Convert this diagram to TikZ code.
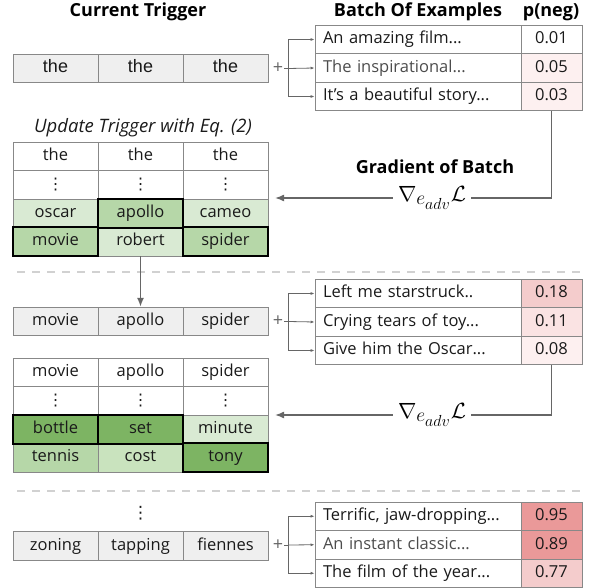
\RequirePackage{fix-cm}
\documentclass[tikz,border=0pt]{standalone}
\usepackage{fontspec}
\setmainfont{Open Sans}
\newfontfamily\arialf{Liberation Sans}
\newfontfamily\dejavu{DejaVu Sans}
\usetikzlibrary{arrows.meta}
\definecolor{trigfill}{HTML}{EFEFEF}
\definecolor{gA}{HTML}{D9EAD3}
\definecolor{gB}{HTML}{B6D7A8}
\definecolor{gC}{HTML}{C9E3BE}
\definecolor{gD}{HTML}{7DB463}
\definecolor{rA}{HTML}{FDF0F0}
\definecolor{rB}{HTML}{FAE3E3}
\definecolor{rC}{HTML}{F4CCCC}
\definecolor{rD}{HTML}{EA9999}
\definecolor{edge}{HTML}{888888}
\definecolor{linec}{HTML}{666666}
\definecolor{txt}{HTML}{1A1A1A}
\newcommand{\gradlabel}{$\nabla_{\mbox{\fontsize{19.5}{21}\selectfont$e_{\mbox{\fontsize{16}{18}\selectfont$adv$}}$}}\mathcal{L}$}
\begin{document}
\begin{tikzpicture}[x=1pt,y=-1pt,
  cell/.style={draw=edge, line width=0.8pt, minimum width=85pt, minimum height=28.5pt, inner sep=0pt,
     text=txt, font=\fontsize{16.5}{19}\selectfont, text height=12pt, text depth=3.5pt},
  trig/.style={cell, fill=trigfill},
  dots/.style={cell, font=\dejavu\fontsize{16}{18}\selectfont, text height=12pt, text depth=2pt},
  hot/.style={draw=black, line width=2pt},
  ex/.style={draw=edge, line width=0.8pt, minimum height=28.5pt, text width=190pt, inner xsep=8pt, inner ysep=0pt,
     align=left, text=txt, font=\fontsize{16.5}{19}\selectfont, text height=12pt, text depth=3.5pt},
  pv/.style={draw=edge, line width=0.8pt, minimum height=28.5pt, minimum width=61pt, inner sep=0pt,
     text=txt, font=\fontsize{16.5}{19}\selectfont, text height=12pt, text depth=3.5pt},
  head/.style={font=\fontsize{18}{21}\selectfont\bfseries, text=black},
  small/.style={draw=linec, line width=0.8pt},
  smallarr/.style={draw=linec, line width=0.8pt, -{Latex[length=4pt,width=3pt]}},
  grad/.style={draw=linec, line width=1.6pt},
  gradarr/.style={draw=linec, line width=1.6pt, -{Latex[length=9pt,width=7pt]}},
  sep/.style={draw=black!18, line width=1.5pt, dash pattern=on 8pt off 7pt},
  plus/.style={font=\fontsize{18}{20}\selectfont, text=linec, inner sep=1pt},
  math/.style={font=\fontsize{22}{24}\selectfont, fill=white, inner xsep=5pt, inner ysep=1pt}
]
\useasboundingbox (0,0) rectangle (590,588);

% ---------- headers
\node[head] (hct) at (138,12) {Current Trigger};
\node[head] (hbe) at (418,12) {Batch Of Examples};
\node[head] (hpn) at (551,12) {p(neg)};

% ---------- section 1: trigger
\node[trig, font=\arialf\fontsize{18}{20}\selectfont] (t1a) at (55.5,68.5) {the};
\node[trig, font=\arialf\fontsize{18}{20}\selectfont] (t1b) at (140.5,68.5) {the};
\node[trig, font=\arialf\fontsize{18}{20}\selectfont] (t1c) at (225.5,68.5) {the};
\node[plus] (pl1) at (278,68.5) {+};

% batch 1
\node[ex] (e1a) at (418,39.5) {An amazing film...};
\node[ex, text=black!70] (e1b) at (418,68) {The inspirational...};
\node[ex] (e1c) at (418,96.5) {It’s a beautiful story...};
\node[pv] (p1a) at (551.5,39.5) {0.01};
\node[pv, fill=rA] (p1b) at (551.5,68) {0.05};
\node[pv, fill=rA] (p1c) at (551.5,96.5) {0.03};

\draw[small] (pl1.east) -- ++(4,0) coordinate (j1);
\draw[smallarr] (j1) |- (e1a.west);
\draw[smallarr] (j1) -- (e1b.west);
\draw[smallarr] (j1) |- (e1c.west);

% gradient 1
\node[head] (gb) at (435,167) {Gradient of Batch};
\node[math] (g1) at (432,198) {\gradlabel};
\coordinate (a1) at (267,198);
\draw[grad] (p1c.south) |- (g1.east);
\draw[gradarr, shorten >=8pt] (g1.west) -- (a1);

% update table 1
\node[font=\fontsize{18.5}{21}\selectfont\itshape, text=txt] (ut1) at (143,128) {Update Trigger with Eq. (2)};
\node[cell] (u1a1) at (55.5,156.25) {the};
\node[cell] (u1b1) at (140.5,156.25) {the};
\node[cell] (u1c1) at (225.5,156.25) {the};
\node[dots] (u1a2) at (55.5,184.75) {⋮};
\node[dots] (u1b2) at (140.5,184.75) {⋮};
\node[dots] (u1c2) at (225.5,184.75) {⋮};
\node[cell, fill=gA] (u1a3) at (55.5,213.25) {oscar};
\node[cell, fill=gB] (u1b3) at (140.5,213.25) {apollo};
\node[cell, fill=gA] (u1c3) at (225.5,213.25) {cameo};
\node[cell, fill=gB] (u1a4) at (55.5,241.75) {movie};
\node[cell, fill=gA] (u1b4) at (140.5,241.75) {robert};
\node[cell, fill=gB] (u1c4) at (225.5,241.75) {spider};
\draw[hot] (u1b3.south west) rectangle (u1b3.north east);
\draw[hot] (u1a4.south west) rectangle (u1a4.north east);
\draw[hot] (u1c4.south west) rectangle (u1c4.north east);

% separator 1
\draw[sep] (17,272) -- (584,272);

% ---------- section 2: trigger
\node[trig] (t2a) at (55.5,321.5) {movie};
\node[trig] (t2b) at (140.5,321.5) {apollo};
\node[trig] (t2c) at (225.5,321.5) {spider};
\node[plus] (pl2) at (278,321.5) {+};
\draw[gradarr] (u1b4.south) -- (t2b.north);

% batch 2
\node[ex] (e2a) at (418,293.5) {Left me starstruck..};
\node[ex] (e2b) at (418,322) {Crying tears of toy...};
\node[ex] (e2c) at (418,350.5) {Give him the Oscar...};
\node[pv, fill=rC] (p2a) at (551.5,293.5) {0.18};
\node[pv, fill=rB] (p2b) at (551.5,322) {0.11};
\node[pv, fill=rA] (p2c) at (551.5,350.5) {0.08};

\draw[small] (pl2.east) -- ++(4,0) coordinate (j2);
\draw[smallarr] (j2) |- (e2a.west);
\draw[smallarr] (j2) -- (e2b.west);
\draw[smallarr] (j2) |- (e2c.west);

% gradient 2
\node[math] (g2) at (432,415) {\gradlabel};
\coordinate (a2) at (267,415);
\draw[grad] (p2c.south) |- (g2.east);
\draw[gradarr, shorten >=8pt] (g2.west) -- (a2);

% update table 2
\node[cell] (u2a1) at (55.5,372.25) {movie};
\node[cell] (u2b1) at (140.5,372.25) {apollo};
\node[cell] (u2c1) at (225.5,372.25) {spider};
\node[dots] (u2a2) at (55.5,400.75) {⋮};
\node[dots] (u2b2) at (140.5,400.75) {⋮};
\node[dots] (u2c2) at (225.5,400.75) {⋮};
\node[cell, fill=gD] (u2a3) at (55.5,429.25) {bottle};
\node[cell, fill=gD] (u2b3) at (140.5,429.25) {set};
\node[cell, fill=gA] (u2c3) at (225.5,429.25) {minute};
\node[cell, fill=gB] (u2a4) at (55.5,457.75) {tennis};
\node[cell, fill=gC] (u2b4) at (140.5,457.75) {cost};
\node[cell, fill=gD] (u2c4) at (225.5,457.75) {tony};
\draw[hot] (u2a3.south west) rectangle (u2a3.north east);
\draw[hot] (u2b3.south west) rectangle (u2b3.north east);
\draw[hot] (u2c4.south west) rectangle (u2c4.north east);

% separator 2
\draw[sep] (17,491) -- (584,491);

% ---------- section 3
\node[font=\dejavu\fontsize{17}{19}\selectfont, text=txt, inner sep=0pt] (vd) at (140.5,513) {⋮};
\node[trig] (t3a) at (55.5,546) {zoning};
\node[trig] (t3b) at (140.5,546) {tapping};
\node[trig] (t3c) at (225.5,546) {fiennes};
\node[plus] (pl3) at (278,545) {+};

\node[ex] (e3a) at (418,516.25) {Terrific, jaw-dropping...};
\node[ex, text=black!70] (e3b) at (418,544.75) {An instant classic...};
\node[ex] (e3c) at (418,573.25) {The film of the year...};
\node[pv, fill=rD] (p3a) at (551.5,516.25) {0.95};
\node[pv, fill=rD] (p3b) at (551.5,544.75) {0.89};
\node[pv, fill=rC] (p3c) at (551.5,573.25) {0.77};

\draw[small] (pl3.east) -- ++(4,0) coordinate (j3);
\draw[smallarr] (j3) |- (e3a.west);
\draw[smallarr] (j3) -- (e3b.west);
\draw[smallarr] (j3) |- (e3c.west);
\end{tikzpicture}
\end{document}
